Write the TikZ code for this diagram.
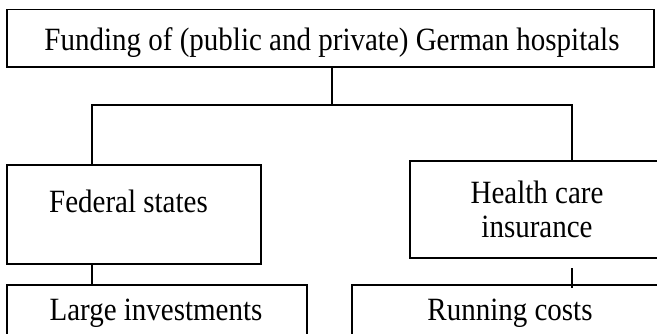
\documentclass[tikz,border=0pt]{standalone}
\usepackage{graphicx}
\usepackage{fontspec}
\setmainfont{Liberation Serif}
\newcommand{\tallword}[1]{\scalebox{1}[1.12]{#1}}
\begin{document}
\begin{tikzpicture}[x=1pt,y=-1pt,
  box/.style={draw,line width=1.6pt,inner sep=0pt,outer sep=0pt},
  lbl/.style={anchor=base,inner sep=0pt,font=\fontsize{29}{35}\selectfont},
  link/.style={line width=1.6pt}]
  % page frame; the right-hand and bottom boxes run past it
  \clip (0,0) rectangle (657,333);

  % boxes
  \node[box,minimum width=647pt,minimum height=57.5pt] (top) at (330.5,38.25) {};
  \node[box,minimum width=254pt,minimum height=99pt]   (fed) at (134,214.5) {};
  \node[box,minimum width=252pt,minimum height=97pt]   (hea) at (536,209.5) {};
  \node[box,minimum width=300pt,minimum height=52pt]   (lar) at (157,311) {};
  \node[box,minimum width=310pt,minimum height=52pt]   (run) at (507,311) {};

  % captions
  \node[lbl] (topt) at (332,50)  {\tallword{Funding of (public and private) German hospitals}};
  \node[lbl] (fedt) at (128.5,212) {\tallword{Federal states}};
  \node[lbl] (heat) at (537,203) {\tallword{Health care}};
  \node[lbl] (heat2) at (537,237) {\tallword{insurance}};
  \node[lbl] (lart) at (156,320) {\tallword{Large investments}};
  \node[lbl] (runt) at (510,320) {\tallword{Running costs}};

  % branch points of the tree
  \coordinate (jl) at (92,105);
  \coordinate (jm) at (332,105);
  \coordinate (jr) at (572,105);

  % connectors
  \draw[link] (top.south -| jm) -- (jm);
  \draw[link] ([xshift=-0.8pt]jl) -- ([xshift=0.8pt]jr);
  \draw[link] (jl) -- (jl |- fed.north);
  \draw[link] (jr) -- (jr |- hea.north);
  \draw[link] (jl |- fed.south) -- (jl |- lar.north);
  \draw[link] ([yshift=-10pt]jr |- hea.south) -- ([yshift=-3pt]jr |- run.north);
\end{tikzpicture}
\end{document}
